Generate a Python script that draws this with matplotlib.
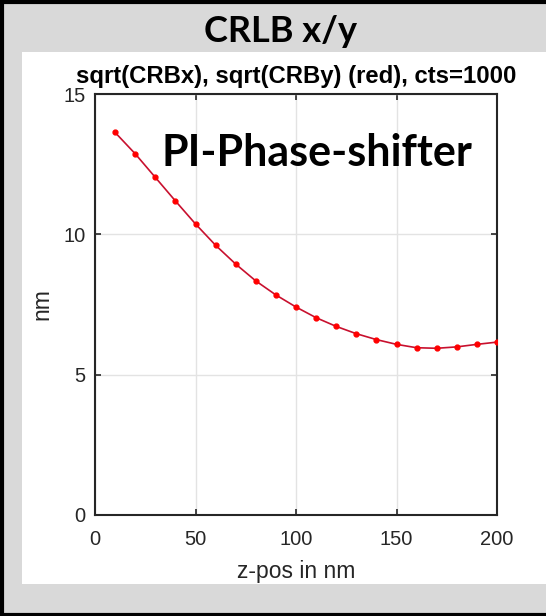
import matplotlib
matplotlib.use("Agg")
import matplotlib.pyplot as plt
from matplotlib.patches import Rectangle
from matplotlib.lines import Line2D

# data
z_pos = [10, 20, 30, 40, 50, 60, 70, 80, 90, 100,
         110, 120, 130, 140, 150, 160, 170, 180, 190, 200]
crb_y = [13.63, 12.87, 12.03, 11.19, 10.37, 9.61, 8.94, 8.34, 7.84, 7.41,
         7.03, 6.72, 6.46, 6.25, 6.08, 5.96, 5.94, 5.99, 6.08, 6.16]
x_ticks = [0, 50, 100, 150, 200]
y_ticks = [0, 5, 10, 15]

plt.rcParams['font.family'] = ['Liberation Sans', 'DejaVu Sans']

W, H = 546, 616
fig = plt.figure(figsize=(W / 100, H / 100), dpi=100)
fig.patch.set_facecolor('#d9d9d9')

# white panel and black frame
fig.patches.append(Rectangle((22 / W, 1 - 584 / H), 1, (584 - 52) / H,
                             transform=fig.transFigure, facecolor='white',
                             edgecolor='none', zorder=-5))
for xs, ys in [([2 / W, 2 / W], [0, 1]), ([0, 1], [1 - 1.5 / H, 1 - 1.5 / H]),
               ([0, 1], [1.5 / H, 1.5 / H])]:
    fig.lines.append(Line2D(xs, ys, transform=fig.transFigure, color='black', lw=3))

ax = fig.add_axes([95 / W, 1 - 515 / H, (497 - 95) / W, (515 - 94) / H])
ax.set_zorder(2)
ax.plot(z_pos, crb_y, color='#c8102e', lw=1.2, marker='o', ms=3.5,
        mfc='red', mec='red', zorder=3)

ax.set_xlim(0, 200)
ax.set_ylim(0, 15)
ax.set_xticks(x_ticks)
ax.set_yticks(y_ticks)
ax.grid(True, color='#e3e3e3', lw=1)
ax.tick_params(direction='in', top=True, right=True, length=4, width=1.2,
               labelsize=14.5, colors='#262626')
ax.tick_params(axis='x', pad=11)
ax.tick_params(axis='y', pad=7)
for s in ax.spines.values():
    s.set_linewidth(1.5)
    s.set_color('#262626')
ax.set_xlabel('z-pos in nm', fontsize=16.5, color='#262626', labelpad=8)
ax.set_ylabel('nm', fontsize=16.5, color='#262626', labelpad=7)
ax.set_title('sqrt(CRBx), sqrt(CRBy) (red), cts=1000', fontsize=17.2,
             fontweight='bold', pad=8)

ax.text(0.166, 0.86, 'PI-Phase-shifter', transform=ax.transAxes,
        fontsize=31, fontweight='bold', family='Lato', va='center', ha='left')
fig.text(281 / W, 1 - 32 / H, 'CRLB x/y', fontsize=26, fontweight='bold',
         family='Lato', ha='center', va='center')

fig.savefig('out.png', dpi=100, facecolor=fig.get_facecolor())
